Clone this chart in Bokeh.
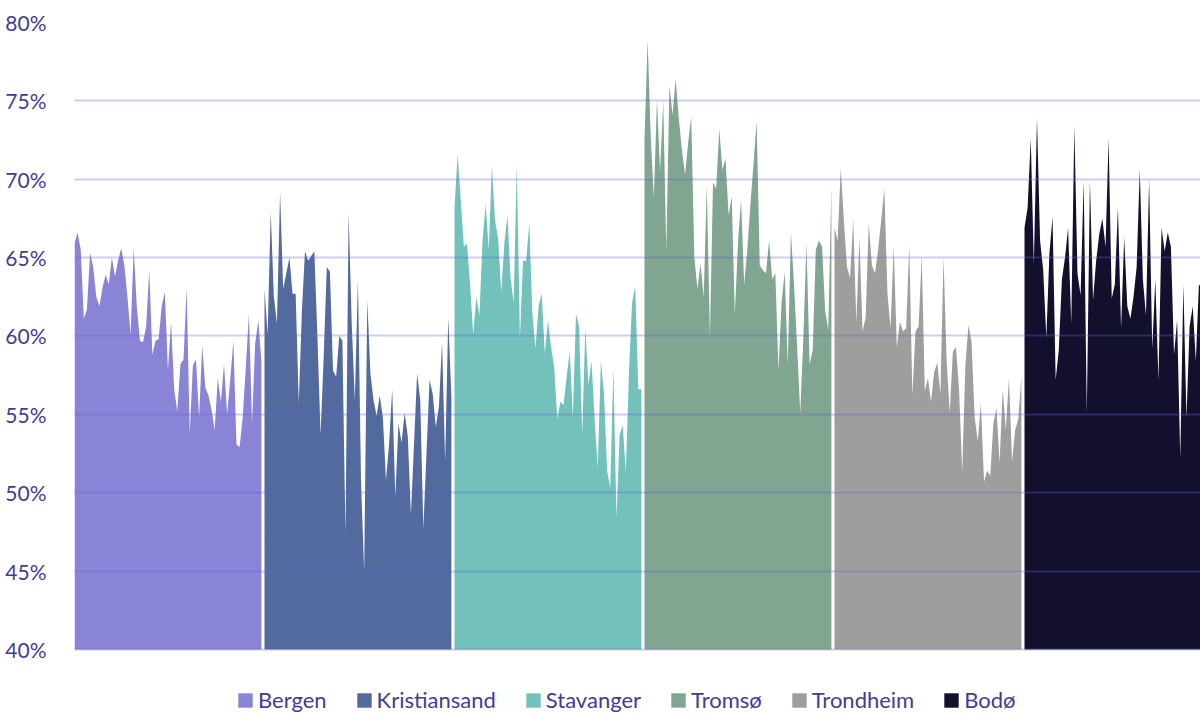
from bokeh.plotting import figure
from bokeh.models import Range1d, Legend, LegendItem, FixedTicker, PrintfTickFormatter
from bokeh.embed import file_html
from bokeh.resources import INLINE

cities = ["Bergen", "Kristiansand", "Stavanger", "Tromsø", "Trondheim", "Bodø"]
colors = ["#8a84d6", "#526a9e", "#72c2bb", "#80a591", "#a09e9d", "#13102e"]

bergen = [65.9, 66.6, 65.5, 61.1, 61.7, 65.3, 64.4, 62.5, 61.9, 63.1, 63.9, 63.3, 65.0, 63.8, 64.8,
          65.6, 64.5, 62.5, 60.1, 65.6, 61.9, 59.7, 59.6, 60.6, 64.2, 58.8, 59.7, 59.8, 61.9, 62.8,
          57.8, 60.9, 56.6, 55.2, 58.2, 58.5, 63.1, 53.8, 58.1, 58.5, 54.8, 59.4, 56.7, 56.2, 55.3,
          54.0, 57.3, 55.8, 58.2, 55.0, 57.2, 59.7, 53.1, 52.9, 54.8, 58.0, 61.4, 54.4, 59.5, 61.0, 58.4]
kristiansand = [63.0, 60.1, 67.9, 62.5, 60.8, 69.2, 63.0, 64.0, 65.0, 62.7, 62.7, 55.7, 61.6, 65.4, 64.8,
                65.1, 65.4, 59.9, 53.7, 58.7, 64.4, 64.1, 57.8, 57.4, 60.0, 59.7, 47.3, 67.9, 60.8, 55.9,
                63.6, 50.6, 45.0, 62.3, 57.6, 55.9, 54.9, 56.2, 54.8, 50.8, 53.1, 56.6, 49.7, 54.4, 53.2,
                55.1, 53.6, 48.6, 53.1, 57.6, 55.9, 47.7, 52.5, 57.2, 56.3, 54.2, 55.5, 59.6, 52.0, 61.2, 56.1]
stavanger = [68.2, 71.6, 68.7, 65.7, 65.9, 63.3, 60.1, 62.5, 61.3, 66.1, 68.4, 65.5, 70.9, 67.4, 66.2,
             62.8, 65.9, 67.7, 63.7, 62.1, 70.9, 59.9, 64.8, 64.8, 67.2, 61.4, 59.2, 61.9, 62.7, 58.9,
             61.0, 59.3, 58.0, 54.7, 55.8, 55.6, 57.4, 59.0, 54.8, 61.4, 60.6, 53.7, 60.5, 56.9, 58.4,
             54.6, 51.6, 58.4, 56.3, 51.4, 50.3, 57.9, 48.4, 53.7, 54.3, 51.3, 57.6, 62.1, 63.2, 56.6, 56.6]
tromso = [72.5, 78.9, 72.7, 68.8, 75.1, 70.5, 75.0, 65.4, 76.0, 74.1, 76.4, 73.9, 71.9, 70.3, 72.3,
          74.0, 65.0, 63.0, 64.6, 62.5, 69.6, 60.0, 69.8, 69.4, 73.2, 70.6, 71.3, 67.7, 68.9, 61.4,
          65.9, 68.7, 63.3, 65.5, 68.4, 71.0, 73.7, 64.5, 64.2, 64.0, 66.1, 63.6, 64.0, 57.8, 62.1,
          64.1, 58.2, 66.6, 63.3, 59.3, 55.1, 59.9, 65.9, 58.2, 59.1, 65.5, 66.1, 65.7, 61.6, 60.4, 69.6]
trondheim = [66.9, 66.1, 70.7, 67.4, 64.4, 63.7, 67.4, 60.9, 66.3, 60.3, 61.2, 67.2, 64.5, 64.0, 65.5,
             67.4, 69.4, 62.7, 60.5, 65.7, 59.3, 60.9, 60.3, 60.5, 65.8, 56.2, 60.3, 60.6, 65.1, 56.5,
             57.3, 55.8, 57.7, 58.3, 56.3, 65.0, 58.4, 55.1, 59.0, 59.3, 56.5, 51.3, 58.0, 60.7, 59.6,
             54.8, 53.3, 55.7, 50.7, 51.4, 51.1, 54.4, 55.4, 51.9, 56.6, 54.0, 57.3, 52.0, 54.0, 54.7, 57.4]
bodo = [66.9, 68.2, 72.6, 64.6, 73.9, 66.1, 64.2, 59.9, 65.3, 67.6, 57.2, 59.1, 63.6, 65.0, 66.9,
        60.8, 73.4, 64.0, 62.6, 69.9, 55.1, 69.9, 62.3, 64.8, 66.5, 67.5, 65.7, 72.6, 62.4, 63.3,
        68.2, 60.5, 66.3, 61.9, 61.1, 62.5, 64.4, 70.6, 63.6, 61.3, 70.0, 59.2, 63.6, 57.2, 66.9,
        65.4, 66.6, 65.7, 58.8, 61.0, 52.2, 63.3, 54.8, 60.6, 61.9, 58.4, 63.3, 63.0]

series = [bergen, kristiansand, stavanger, tromso, trondheim, bodo]
y_ticks = [40, 45, 50, 55, 60, 65, 70, 75, 80]
POINTS_PER_CITY = 61
Y_BASE = 40

TEXT = "#403c9c"
FONT = "Lato"

# frame spans the plot area plus the legend strip beneath it
p = figure(width=1200, height=713, output_backend="svg", toolbar_location=None,
           x_range=Range1d(0, 361.5), y_range=Range1d(35.917, 80),
           min_border_left=74, min_border_right=0, min_border_top=22, min_border_bottom=0)
p.outline_line_color = None
p.background_fill_color = "white"
p.border_fill_color = "white"

items = []
for k, (name, vals, col) in enumerate(zip(cities, series, colors)):
    xs = [k * POINTS_PER_CITY + i for i in range(len(vals))]
    r = p.varea(x=xs, y1=[Y_BASE] * len(vals), y2=vals, fill_color=col, fill_alpha=1.0)
    items.append(LegendItem(label=name, renderers=[r]))

p.xaxis.visible = False
p.xgrid.grid_line_color = None

p.yaxis.ticker = FixedTicker(ticks=y_ticks)
p.yaxis.formatter = PrintfTickFormatter(format="%d%%")
p.yaxis.axis_line_color = None
p.yaxis.major_tick_line_color = None
p.yaxis.minor_tick_line_color = None
p.yaxis.major_label_text_font = FONT
p.yaxis.major_label_text_font_size = "21px"
p.yaxis.major_label_text_color = TEXT
p.yaxis.major_label_standoff = 22

p.ygrid.ticker = FixedTicker(ticks=y_ticks)
p.ygrid.grid_line_color = "#6a60d8"
p.ygrid.grid_line_alpha = 0.32
p.ygrid.grid_line_width = 2
p.ygrid.level = "overlay"

legend = Legend(items=items, orientation="horizontal", location=(162, 0),
                label_text_font=FONT, label_text_font_size="22px", label_text_color=TEXT,
                glyph_width=18, glyph_height=18, label_height=22, label_standoff=4,
                spacing=28, padding=0, margin=0, border_line_color=None,
                background_fill_alpha=0)
p.add_layout(legend, "center")

open("out.html", "w").write(file_html(p, INLINE))
